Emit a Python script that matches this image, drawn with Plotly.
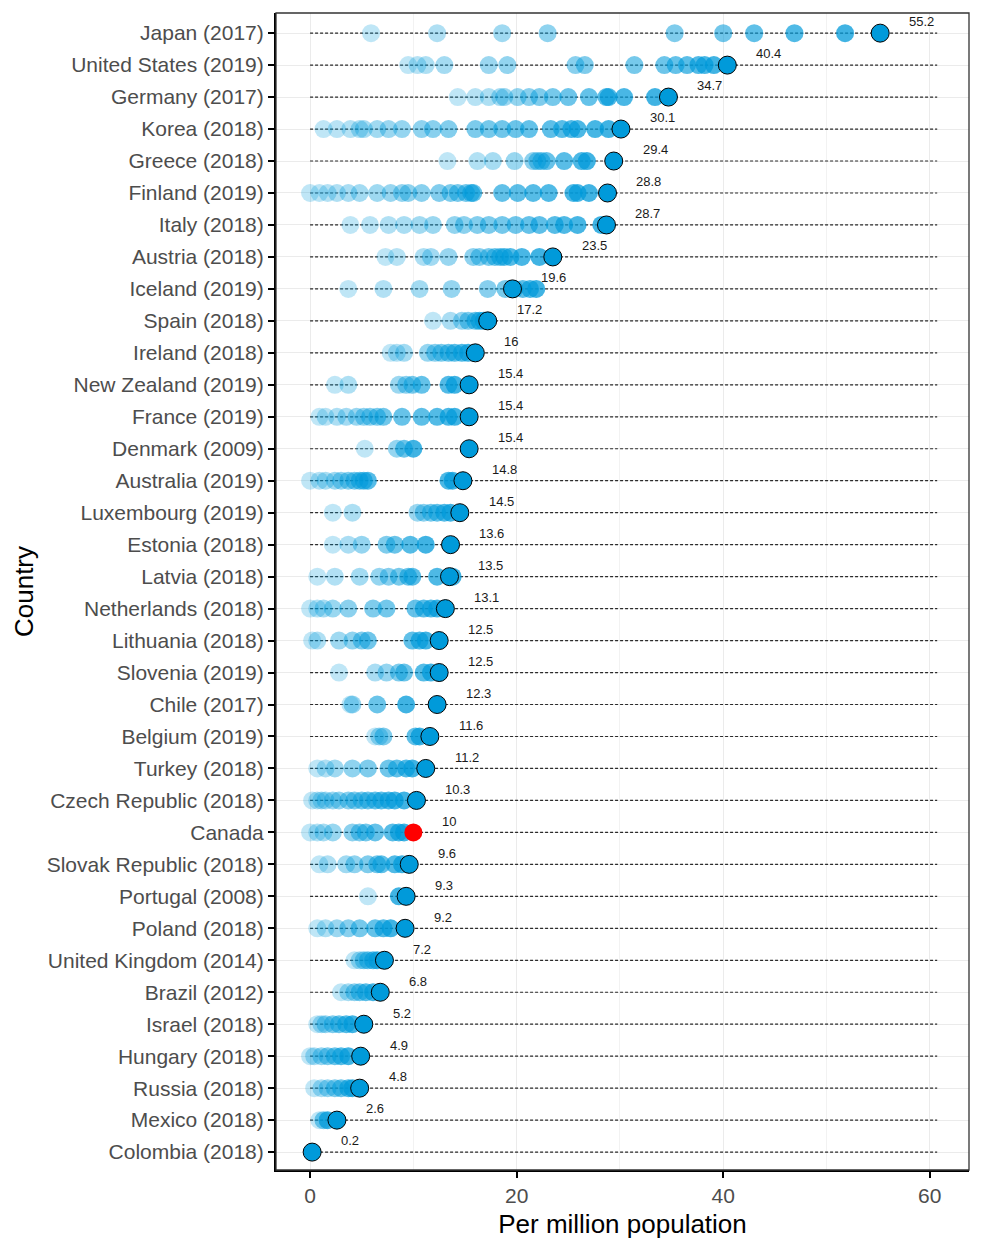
import plotly.graph_objects as go

# Countries, top to bottom as shown
countries = [
    "Japan (2017)", "United States (2019)", "Germany (2017)", "Korea (2018)",
    "Greece (2018)", "Finland (2019)", "Italy (2018)", "Austria (2018)",
    "Iceland (2019)", "Spain (2018)", "Ireland (2018)", "New Zealand (2019)",
    "France (2019)", "Denmark (2009)", "Australia (2019)", "Luxembourg (2019)",
    "Estonia (2018)", "Latvia (2018)", "Netherlands (2018)", "Lithuania (2018)",
    "Slovenia (2019)", "Chile (2017)", "Belgium (2019)", "Turkey (2018)",
    "Czech Republic (2018)", "Canada", "Slovak Republic (2018)", "Portugal (2008)",
    "Poland (2018)", "United Kingdom (2014)", "Brazil (2012)", "Israel (2018)",
    "Hungary (2018)", "Russia (2018)", "Mexico (2018)", "Colombia (2018)",
]

# Latest value (labelled dot) per country, same order
latest = [55.2, 40.4, 34.7, 30.1, 29.4, 28.8, 28.7, 23.5, 19.6, 17.2, 16, 15.4,
          15.4, 15.4, 14.8, 14.5, 13.6, 13.5, 13.1, 12.5, 12.5, 12.3, 11.6, 11.2,
          10.3, 10, 9.6, 9.3, 9.2, 7.2, 6.8, 5.2, 4.9, 4.8, 2.6, 0.2]

# Earlier years per country (oldest first)
japan = [5.9, 12.3, 18.6, 23.0, 35.3, 40.0, 43.0, 46.9, 51.8]
united_states = [9.5, 10.4, 11.2, 13.0, 17.3, 19.1, 25.7, 26.6, 31.4, 34.3, 35.4, 36.5, 37.6, 38.2, 39.1]
germany = [14.3, 16.0, 17.3, 18.4, 18.8, 20.1, 21.2, 22.2, 23.5, 25.0, 27.0, 28.7, 28.9, 30.4, 33.4]
korea = [1.3, 2.6, 3.9, 4.8, 5.2, 6.5, 7.6, 8.9, 10.8, 11.9, 13.4, 16.0, 17.3, 18.6, 19.9,
         21.2, 23.3, 24.4, 25.3, 25.9, 27.6, 28.9]
greece = [13.3, 16.2, 17.7, 19.8, 21.6, 22.0, 22.4, 22.9, 24.6, 26.3, 26.8]
finland = [0.0, 0.9, 1.7, 2.6, 3.7, 4.8, 6.5, 7.8, 8.9, 9.5, 10.8, 12.5, 13.6, 14.3, 15.1,
           15.6, 15.8, 18.6, 20.1, 21.6, 23.1, 25.5, 25.9, 27.0]
italy = [3.9, 5.8, 7.6, 9.1, 10.6, 11.9, 14.0, 14.9, 16.2, 17.3, 18.6, 19.9, 21.2, 22.2,
         23.7, 24.6, 25.9, 28.2]
austria = [7.3, 8.4, 11.0, 11.7, 13.4, 15.8, 16.4, 17.3, 17.9, 18.4, 18.8, 19.4, 20.5, 22.2]
iceland = [3.7, 7.1, 10.6, 13.7, 17.2, 18.9, 19.8, 20.6, 21.3, 21.9]
spain = [11.9, 13.6, 14.7, 15.3, 16.0, 16.4, 16.8]
ireland = [7.8, 8.4, 9.1, 11.4, 12.1, 12.7, 13.4, 14.0, 14.7, 15.3]
new_zealand = [2.4, 3.7, 8.6, 9.3, 9.9, 10.8, 13.4, 14.0]
france = [0.9, 1.5, 2.6, 3.5, 4.5, 5.2, 5.8, 6.5, 7.1, 8.9, 10.8, 12.3, 13.4, 14.0]
denmark = [5.3, 8.4, 9.1, 10.0]
australia = [0.0, 0.9, 1.5, 2.4, 3.0, 3.7, 4.3, 4.8, 5.2, 5.6, 13.4, 13.8]
luxembourg = [2.2, 4.1, 10.4, 11.0, 11.7, 12.3, 13.0, 13.6]
estonia = [2.2, 3.7, 5.0, 7.4, 8.2, 9.7, 11.2]
latvia = [0.7, 2.4, 4.8, 6.7, 7.6, 8.6, 9.5, 9.9, 12.3, 13.8]
netherlands = [0.0, 0.7, 1.3, 2.2, 3.7, 6.1, 7.4, 10.2, 11.0, 11.7, 12.3]
lithuania = [0.2, 0.7, 2.8, 4.1, 5.0, 5.6, 9.9, 10.6, 11.2]
slovenia = [2.8, 6.3, 7.4, 8.6, 9.1, 11.0, 11.7]
chile = [3.9, 4.1, 6.5, 9.3]
belgium = [6.3, 6.7, 7.1, 10.2, 10.6]
turkey = [0.7, 1.5, 2.4, 4.1, 5.6, 7.6, 8.4, 9.3, 9.9]
czech_republic = [0.2, 0.7, 1.1, 1.5, 2.2, 2.8, 3.7, 4.3, 5.0, 5.6, 6.3, 6.9, 7.6, 8.2, 9.1]
canada = [0.0, 0.7, 1.3, 2.2, 4.1, 4.8, 5.4, 6.3, 8.0, 8.6, 9.1]
slovak_republic = [0.9, 1.7, 3.5, 4.3, 5.6, 6.5, 6.9, 8.2, 8.9]
portugal = [5.6, 8.6]
poland = [0.7, 1.5, 2.6, 3.7, 4.8, 6.3, 7.1, 7.8]
united_kingdom = [4.3, 4.8, 5.2, 5.6, 6.1, 6.5]
brazil = [3.0, 3.7, 4.3, 4.8, 5.4, 6.1]
israel = [0.7, 1.1, 1.5, 2.2, 2.8, 3.5, 4.1]
hungary = [0.0, 0.4, 1.1, 1.7, 2.4, 3.0, 3.7]
russia = [0.4, 1.1, 1.7, 2.4, 3.0, 3.7, 4.1]
mexico = [0.9, 1.3, 1.7]
colombia = []

history = [japan, united_states, germany, korea, greece, finland, italy, austria,
           iceland, spain, ireland, new_zealand, france, denmark, australia,
           luxembourg, estonia, latvia, netherlands, lithuania, slovenia, chile,
           belgium, turkey, czech_republic, canada, slovak_republic, portugal,
           poland, united_kingdom, brazil, israel, hungary, russia, mexico, colombia]

highlight = "Canada"

n = len(countries)
ypos = [n - 1 - i for i in range(n)]  # Japan at top

BLUE = (0, 154, 218)
FONT = "Liberation Sans, Arial, sans-serif"

fig = go.Figure()

# dashed guide lines
line_end = max(latest) * 1.1
lx, ly = [], []
for y in ypos:
    lx += [0, line_end, None]
    ly += [y, y, None]
fig.add_trace(go.Scatter(x=lx, y=ly, mode="lines",
                         line=dict(color="#2b2b2b", width=1.2, dash="3px,2px"),
                         hoverinfo="skip", showlegend=False))

# historical dots
hx, hy, hc = [], [], []
for vals, y in zip(history, ypos):
    m = len(vals)
    for j, v in enumerate(vals):
        a = 0.25 + 0.5 * (j / (m - 1) if m > 1 else 1)
        hx.append(v)
        hy.append(y)
        hc.append(f"rgba({BLUE[0]},{BLUE[1]},{BLUE[2]},{a:.3f})")
fig.add_trace(go.Scatter(x=hx, y=hy, mode="markers",
                         marker=dict(size=18, color=hc, line=dict(width=0)),
                         showlegend=False))

# latest dots
fc, lc = [], []
for c in countries:
    if c == highlight:
        fc.append("#FF0000"); lc.append("rgba(0,0,0,0)")
    else:
        fc.append(f"rgb{BLUE}"); lc.append("#000000")
fig.add_trace(go.Scatter(x=latest, y=ypos, mode="markers",
                         marker=dict(size=18, color=fc, line=dict(color=lc, width=1)),
                         showlegend=False))

# value labels
for v, y in zip(latest, ypos):
    fig.add_annotation(x=v + 2.7, y=y + 0.35, text=f"{v:g}", showarrow=False,
                       xanchor="left", yanchor="middle", borderpad=0,
                       font=dict(family=FONT, size=13, color="#1a1a1a"))

fig.update_layout(
    width=976, height=1244,
    margin=dict(l=268, r=15, t=5, b=82),
    plot_bgcolor="white", paper_bgcolor="white",
    font=dict(family=FONT),
    shapes=[dict(type="rect", xref="paper", yref="paper", x0=0, y0=0, x1=1, y1=1,
                 line=dict(color="#333333", width=1.3), layer="above")],
)
fig.update_xaxes(
    range=[-3.3, 63.8], tickvals=[0, 20, 40, 60], ticktext=["0", "20", "40", "60"],
    automargin=False,
    showgrid=True, gridcolor="#EBEBEB", gridwidth=1.2, zeroline=False,
    minor=dict(tickvals=[10, 30, 50], showgrid=True, gridcolor="#F2F2F2", gridwidth=1, ticks=""),
    showline=True, linecolor="black", linewidth=2,
    ticks="outside", ticklen=6, tickcolor="black", tickwidth=1.5,
    tickfont=dict(size=21, color="#4D4D4D", family=FONT),
    title=dict(text="Per million population", font=dict(size=26, color="black", family=FONT), standoff=9),
)
fig.update_yaxes(
    range=[-0.56, 35.63], tickvals=ypos, ticktext=countries,
    automargin=False,
    showgrid=True, gridcolor="#EBEBEB", gridwidth=1.2, zeroline=False,
    showline=True, linecolor="black", linewidth=2,
    ticks="outside", ticklen=6, tickcolor="black", tickwidth=1.5,
    tickfont=dict(size=21, color="#4D4D4D", family=FONT),
    title=dict(text="Country", font=dict(size=26, color="black", family=FONT), standoff=6),
)

fig.write_html("out.html")
